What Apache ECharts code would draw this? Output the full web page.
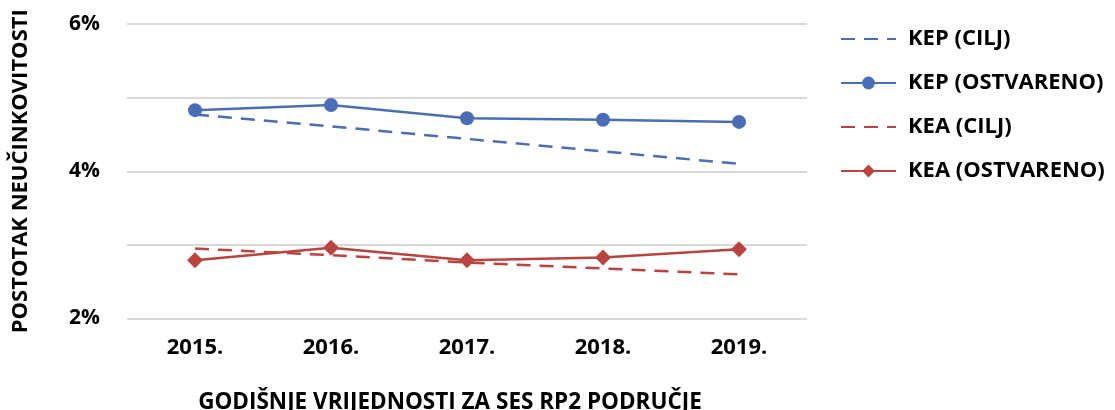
<!DOCTYPE html>
<html>
<head>
<meta charset="utf-8">
<script src="https://cdn.jsdelivr.net/npm/echarts@6/dist/echarts.min.js"></script>
<style>
  html, body { margin: 0; padding: 0; background: #fff; }
  #chart { width: 1115px; height: 410px; }
</style>
</head>
<body>
<div id="chart"></div>
<script>
// godine
var years = ['2015.', '2016.', '2017.', '2018.', '2019.'];
// vrijednosti u %
var kepCilj = [4.77, 4.61, 4.44, 4.27, 4.10];
var kepOstvareno = [4.83, 4.90, 4.72, 4.70, 4.67];
var keaCilj = [2.95, 2.86, 2.76, 2.68, 2.60];
var keaOstvareno = [2.79, 2.96, 2.79, 2.83, 2.94];

var blue = '#4a6eb6';
var red = '#b8433f';
var font = '"Open Sans", "Noto Sans", sans-serif';

var myChart = echarts.init(document.getElementById('chart'));
var option = {
    animation: false,
    textStyle: { fontFamily: font },
    grid: { left: 127, right: 308, top: 24, bottom: 91.5, outerBoundsMode: 'none' },
    legend: {
        orient: 'vertical',
        left: 835,
        top: 23,
        itemWidth: 55,
        itemHeight: 16,
        itemGap: 22,
        textStyle: { fontFamily: font, fontSize: 22, fontWeight: 'bold', color: '#000', padding: [0, 0, 0, 7] },
        data: [
            { name: 'KEP (CILJ)', itemStyle: { opacity: 0 } },
            'KEP (OSTVARENO)',
            { name: 'KEA (CILJ)', itemStyle: { opacity: 0 } },
            'KEA (OSTVARENO)'
        ]
    },
    xAxis: {
        type: 'category',
        data: years,
        boundaryGap: true,
        axisLine: { show: false },
        axisTick: { show: false },
        axisLabel: { fontFamily: font, fontSize: 22, fontWeight: 'bold', color: '#000', margin: 18 },
        name: 'GODIŠNJE VRIJEDNOSTI ZA SES RP2 PODRUČJE',
        nameLocation: 'middle',
        nameGap: 73,
        nameTextStyle: { fontFamily: font, fontSize: 22.5, fontWeight: 'bold', color: '#000', padding: [0, 34, 0, 0] }
    },
    yAxis: {
        type: 'value',
        min: 2,
        max: 6,
        interval: 1,
        axisLine: { show: false },
        axisTick: { show: false },
        splitLine: { lineStyle: { color: '#d9d9d9', width: 2 } },
        axisLabel: {
            fontFamily: font, fontSize: 21, fontWeight: 'bold', color: '#000', margin: 27,
            formatter: function (v) { return v % 2 === 0 ? v + '%' : ''; }
        },
        name: 'POSTOTAK NEUČINKOVITOSTI',
        nameLocation: 'middle',
        nameGap: 95,
        nameRotate: 90,
        nameTextStyle: { fontFamily: font, fontSize: 22, fontWeight: 'bold', color: '#000' }
    },
    series: [
        {
            name: 'KEP (CILJ)', type: 'line', data: kepCilj,
            symbol: 'none',
            lineStyle: { color: blue, width: 2.5, type: [14, 9] },
            itemStyle: { color: blue }
        },
        {
            name: 'KEP (OSTVARENO)', type: 'line', data: kepOstvareno,
            symbol: 'circle', symbolSize: 14,
            lineStyle: { color: blue, width: 2.5 },
            itemStyle: { color: blue }
        },
        {
            name: 'KEA (CILJ)', type: 'line', data: keaCilj,
            symbol: 'none',
            lineStyle: { color: red, width: 2.5, type: [14, 9] },
            itemStyle: { color: red }
        },
        {
            name: 'KEA (OSTVARENO)', type: 'line', data: keaOstvareno,
            symbol: 'diamond', symbolSize: 16,
            lineStyle: { color: red, width: 2.5 },
            itemStyle: { color: red }
        }
    ]
};
window.onresize = myChart.resize;
myChart.setOption(option);
</script>
</body>
</html>
